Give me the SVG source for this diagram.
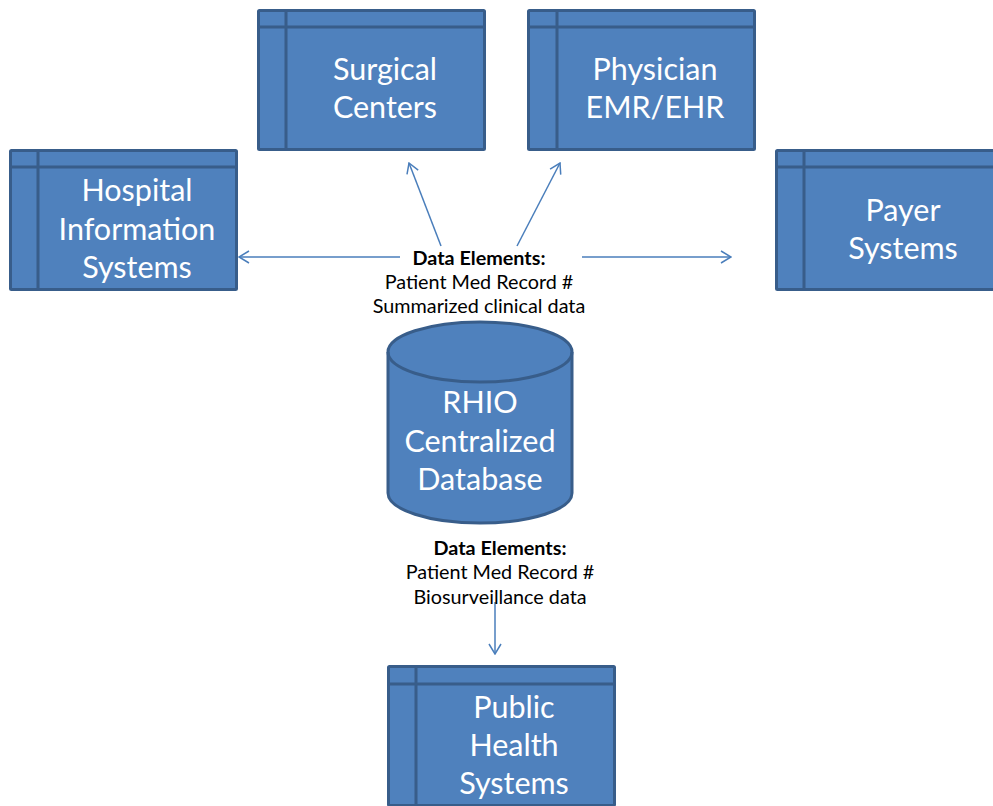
<svg xmlns="http://www.w3.org/2000/svg" width="993" height="806" viewBox="0 0 993 806">
<defs>
<style>
.box{fill:#4F81BD;stroke:#385D8A;stroke-width:3}
.div{stroke:#385D8A;stroke-width:3;fill:none}
.lbl{font-family:Lato,"Open Sans","Liberation Sans",sans-serif;font-size:30.5px;fill:#fff;text-anchor:middle}
.de{font-family:Lato,"Open Sans","Liberation Sans",sans-serif;font-size:19.8px;fill:#000;text-anchor:middle}
.b{font-weight:bold}
.con{stroke:#4A7EBB;stroke-width:1.5;fill:none}
</style>
<marker id="ah" viewBox="0 0 12 14" refX="11" refY="7" markerWidth="12" markerHeight="14" markerUnits="userSpaceOnUse" orient="auto">
<path d="M1,1 L11,7 L1,13" fill="none" stroke="#4A7EBB" stroke-width="1.5"/>
</marker>
</defs>
<rect width="993" height="806" fill="#fff"/>
<g id="connectors">
<line class="con" x1="400" y1="257" x2="239" y2="257" marker-end="url(#ah)"/>
<line class="con" x1="582" y1="257" x2="731" y2="257" marker-end="url(#ah)"/>
<line class="con" x1="441" y1="246" x2="409" y2="163" marker-end="url(#ah)"/>
<line class="con" x1="517" y1="246" x2="560" y2="163" marker-end="url(#ah)"/>
<line class="con" x1="495" y1="602" x2="495" y2="654" marker-end="url(#ah)"/>
</g>
<g id="surgical">
<rect class="box" x="258.5" y="10.5" width="226" height="139" rx="1"/>
<path class="div" d="M286,10.5 V149.5 M258.5,27 H484.5"/>
<text class="lbl" x="385" y="80">Surgical</text>
<text class="lbl" x="385" y="118">Centers</text>
</g>
<g id="physician">
<rect class="box" x="528.5" y="10.5" width="226" height="139" rx="1"/>
<path class="div" d="M557,10.5 V149.5 M528.5,27 H754.5"/>
<text class="lbl" x="655" y="80">Physician</text>
<text class="lbl" x="655" y="118">EMR/EHR</text>
</g>
<g id="hospital">
<rect class="box" x="10.5" y="150.5" width="226" height="139" rx="1"/>
<path class="div" d="M38,150.5 V289.5 M10.5,167 H236.5"/>
<text class="lbl" x="137" y="201">Hospital</text>
<text class="lbl" x="137" y="240">Information</text>
<text class="lbl" x="137" y="278">Systems</text>
</g>
<g id="payer">
<rect class="box" x="776.5" y="150.5" width="226" height="139" rx="1"/>
<path class="div" d="M804,150.5 V289.5 M776.5,167 H1002.5"/>
<text class="lbl" x="903" y="221">Payer</text>
<text class="lbl" x="903" y="259">Systems</text>
</g>
<g id="public-health">
<rect class="box" x="388.5" y="666.5" width="226" height="139" rx="1"/>
<path class="div" d="M416,666.5 V805.5 M388.5,684 H614.5"/>
<text class="lbl" x="514" y="718">Public</text>
<text class="lbl" x="514" y="756">Health</text>
<text class="lbl" x="514" y="794">Systems</text>
</g>
<g id="rhio">
<path class="box" d="M388,352 A92,30 0 0 1 572,352 L572,493 A92,30 0 0 1 388,493 Z"/>
<path class="div" d="M388,352 A92,30 0 0 0 572,352"/>
<text class="lbl" x="480" y="413">RHIO</text>
<text class="lbl" x="480" y="452">Centralized</text>
<text class="lbl" x="480" y="490">Database</text>
</g>
<g id="label-top">
<text class="de b" x="479" y="265">Data Elements:</text>
<text class="de" x="479" y="289">Patient Med Record #</text>
<text class="de" x="479" y="313">Summarized clinical data</text>
</g>
<g id="label-bottom">
<text class="de b" x="500" y="555">Data Elements:</text>
<text class="de" x="500" y="579">Patient Med Record #</text>
<text class="de" x="500" y="604">Biosurveillance data</text>
</g>
</svg>
